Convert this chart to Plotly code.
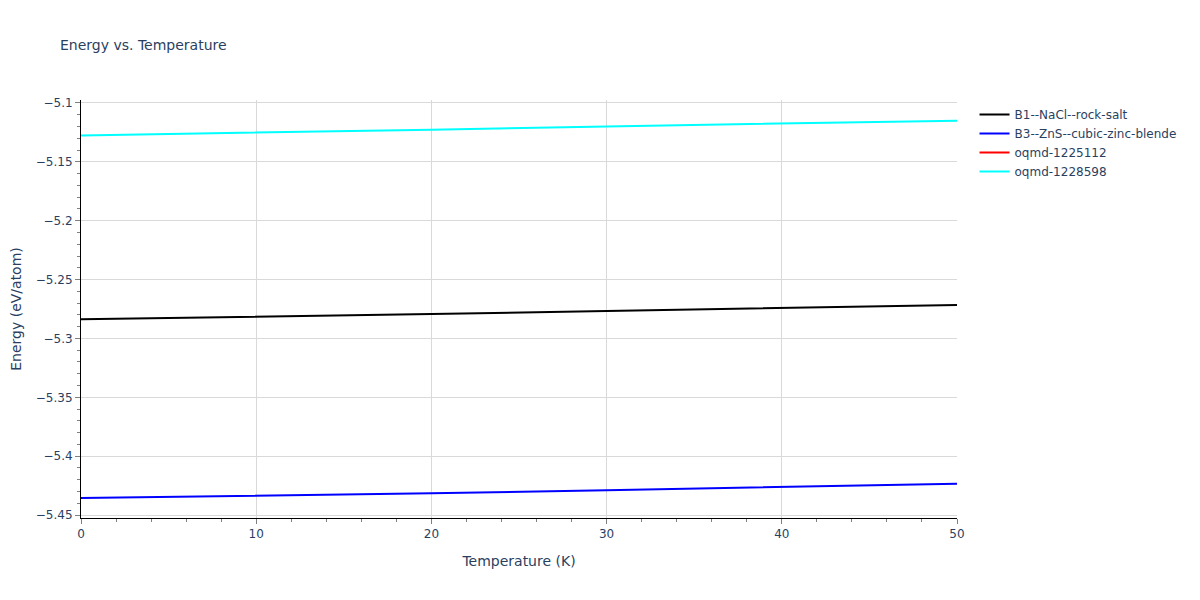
import plotly.graph_objects as go

temperature = [0, 10, 20, 30, 40, 50]
names = ["B1--NaCl--rock-salt", "B3--ZnS--cubic-zinc-blende", "oqmd-1225112", "oqmd-1228598"]
colors = ["black", "blue", "red", "cyan"]
energy_b1 = [-5.2838, -5.2818, -5.2793, -5.2767, -5.2742, -5.2716]
energy_b3 = [-5.4355, -5.4336, -5.4315, -5.4289, -5.4260, -5.4234]
# no visible curve for this entry in the reference
energy_oqmd_1225112 = [None, None, None, None, None, None]
energy_oqmd_1228598 = [-5.1276, -5.1253, -5.1227, -5.1199, -5.1176, -5.1151]

series = [energy_b1, energy_b3, energy_oqmd_1225112, energy_oqmd_1228598]

fig = go.Figure()
for name, color, ys in zip(names, colors, series):
    fig.add_trace(go.Scatter(x=temperature, y=ys, mode="lines", name=name,
                             line=dict(color=color, width=2)))

fig.update_layout(
    template="plotly_white",
    width=1200, height=600,
    font=dict(family="DejaVu Sans", size=12),
    title=dict(text="Energy vs. Temperature", x=52 / 1200, xref="container", xanchor="left",
               y=1 - 37 / 600, yref="container", yanchor="middle", font=dict(size=14)),
    margin=dict(l=73, r=251, t=92, b=90),
    xaxis=dict(title=dict(text="Temperature (K)", font=dict(size=14)), range=[0, 50], dtick=10,
               showline=True, linecolor="black", linewidth=1,
               ticks="outside", ticklen=5, tickcolor="gray",
               minor=dict(dtick=2, ticks="outside", ticklen=3, tickcolor="gray", showgrid=False),
               gridcolor="#d9d9d9", zeroline=False, automargin=False),
    yaxis=dict(title=dict(text="Energy (eV/atom)", font=dict(size=14)), range=[-5.4525, -5.0975], dtick=0.05,
               showline=True, linecolor="black", linewidth=1,
               ticks="outside", ticklen=5, tickcolor="gray",
               minor=dict(dtick=0.01, ticks="outside", ticklen=3, tickcolor="gray", showgrid=False),
               gridcolor="#d9d9d9", zeroline=False, automargin=False),
    legend=dict(x=1.02, y=1, xanchor="left", yanchor="top"),
)

fig.write_html("out.html")
